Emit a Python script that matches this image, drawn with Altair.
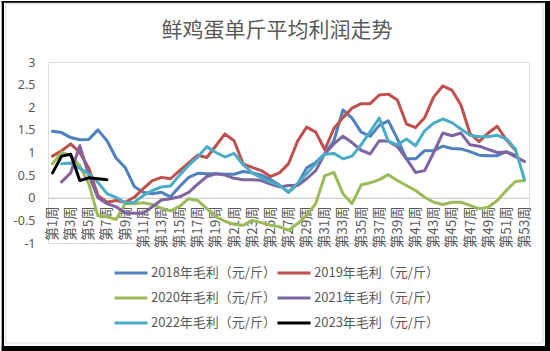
import altair as alt
import pandas as pd

weeks = list(range(1, 54))
names = ["2018年毛利（元/斤）", "2019年毛利（元/斤）", "2020年毛利（元/斤）",
         "2021年毛利（元/斤）", "2022年毛利（元/斤）", "2023年毛利（元/斤）"]
colors = ["#4F81BD", "#C0504D", "#9BBB59", "#8064A2", "#4BACC6", "#000000"]
title_text = "鲜鸡蛋单斤平均利润走势"

s2018 = [1.47, 1.44, 1.33, 1.28, 1.29, 1.50, 1.26, 0.88, 0.67, 0.25, 0.12, 0.09, 0.12, 0.02,
         0.25, 0.45, 0.54, 0.53, 0.53, 0.52, 0.52, 0.58, 0.55, 0.50, 0.40, 0.28, 0.12, 0.30,
         0.66, 0.78, 0.97, 1.26, 1.94, 1.76, 1.45, 1.36, 1.60, 1.70, 1.30, 0.86, 0.86, 1.04,
         1.04, 1.14, 1.09, 1.08, 1.02, 0.94, 0.93, 0.93, 1.02, 0.94, None]
s2019 = [0.92, 1.04, 1.19, 1.00, 0.65, 0.05, -0.10, -0.06, -0.10, 0.01, 0.20, 0.38, 0.45, 0.42,
         0.60, 0.77, 0.94, 0.89, 1.15, 1.41, 1.26, 0.75, 0.67, 0.60, 0.47, 0.55, 0.75, 1.25,
         1.56, 1.45, 1.06, 1.53, 1.77, 1.98, 2.08, 2.08, 2.27, 2.29, 2.16, 1.63, 1.55, 1.77,
         2.23, 2.47, 2.38, 2.05, 1.42, 1.24, 1.43, 1.58, 1.28, 1.05, None]
s2020 = [0.75, 1.00, 0.93, 0.71, 0.30, -0.40, -0.42, -0.48, -0.13, -0.13, -0.11, -0.15, -0.23,
         -0.29, -0.19, -0.02, -0.06, -0.24, -0.42, -0.52, -0.59, -0.61, -0.50, -0.55, -0.61,
         -0.64, -0.72, -0.57, -0.39, -0.13, 0.49, 0.56, 0.09, -0.13, 0.28, 0.33, 0.40, 0.51,
         0.38, 0.27, 0.16, 0.01, -0.10, -0.15, -0.10, -0.10, -0.17, -0.24, -0.21, -0.06, 0.16,
         0.36, 0.38]
s2021 = [None, 0.35, 0.55, 1.15, 0.50, 0.00, -0.13, -0.20, -0.33, -0.34, -0.34, -0.20, -0.05,
         -0.02, 0.02, 0.12, 0.30, 0.47, 0.53, 0.50, 0.43, 0.40, 0.40, 0.38, 0.30, 0.24, 0.27,
         0.27, 0.42, 0.60, 0.97, 1.19, 1.36, 1.22, 1.05, 0.97, 1.26, 1.25, 1.13, 0.86, 0.56,
         0.60, 1.00, 1.43, 1.37, 1.43, 1.17, 1.14, 1.07, 1.00, 1.01, 0.91, 0.80]
s2022 = [None, 0.75, 0.77, 0.65, 0.53, 0.34, 0.09, 0.01, -0.11, -0.10, 0.05, 0.16, 0.24, 0.26,
         0.50, 0.72, 0.90, 1.13, 1.00, 0.90, 0.98, 0.73, 0.55, 0.44, 0.35, 0.27, 0.13, 0.32,
         0.53, 0.75, 0.96, 0.98, 0.86, 0.92, 1.17, 1.46, 1.76, 1.25, 1.17, 1.30, 1.15, 1.48,
         1.65, 1.74, 1.66, 1.52, 1.38, 1.35, 1.35, 1.38, 1.30, 1.08, 0.40]
s2023 = [0.55, 0.92, 0.96, 0.38, 0.44, 0.42, 0.40] + [None] * 46

y_ticks = [-1, -0.5, 0, 0.5, 1, 1.5, 2, 2.5, 3]
x_label_weeks = list(range(1, 54, 2))

rows = []
for name, vals in zip(names, [s2018, s2019, s2020, s2021, s2022, s2023]):
    for w, v in zip(weeks, vals):
        if v is not None:
            rows.append({"series": name, "week": w, "value": v})
df = pd.DataFrame(rows)

FONT = "Noto Sans CJK SC"
GRAY = "#595959"

lines = alt.Chart(df).mark_line(strokeWidth=3, strokeJoin="round", strokeCap="round").encode(
    x=alt.X("week:Q",
            scale=alt.Scale(domain=[0.5, 53.5], nice=False, zero=False),
            axis=alt.Axis(values=x_label_weeks, labelExpr="'第' + datum.value + '周'",
                          labelAngle=-90, offset=-45.25, domainColor="#BFBFBF",
                          domainWidth=1, ticks=False, grid=False, title=None,
                          labelFont=FONT, labelFontSize=13.5, labelColor=GRAY,
                          labelPadding=8, labelOverlap=False, labelFlush=False)),
    y=alt.Y("value:Q",
            scale=alt.Scale(domain=[-1, 3], nice=False, zero=False),
            axis=alt.Axis(values=y_ticks, labelExpr="'' + datum.value", domain=False,
                          ticks=False, grid=False, title=None, labelFont="Noto Sans",
                          labelFontSize=12.5, labelColor=GRAY, labelPadding=13)),
    color=alt.Color("series:N", sort=names,
                    scale=alt.Scale(domain=names, range=colors),
                    legend=alt.Legend(orient="none", legendX=65, legendY=193, columns=2,
                                      direction="horizontal",
                                      title=None, symbolType="stroke", symbolSize=1089,
                                      symbolStrokeWidth=3, labelFont=FONT, labelFontSize=13,
                                      labelColor=GRAY, labelOffset=2, columnPadding=-5,
                                      rowPadding=0, padding=0)),
    order=alt.Order("week:Q"),
)

one = pd.DataFrame({"k": [0]})
def bar(x, x2, y, y2, color="black"):
    return alt.Chart(one).mark_rect(color=color).encode(
        x=alt.value(x), x2=alt.value(x2), y=alt.value(y), y2=alt.value(y2))

# frame (relative to plot origin at 48, 62)
inner = alt.Chart(one).mark_rect(fillOpacity=0, stroke="#D9D9D9", strokeWidth=1).encode(
    x=alt.value(-42.25), x2=alt.value(495), y=alt.value(-58.5), y2=alt.value(281))
left = bar(-46.3, -44, -61, 289)
top = bar(-46.3, 502, -61, -59.3)
right = bar(497, 502, -61, 289)
bottom = bar(-46.3, 502, 284, 289)

title = alt.Chart(one).mark_text(text=title_text, font=FONT, fontSize=21, color=GRAY,
                                 align="center", baseline="middle").encode(
    x=alt.value(229), y=alt.value(-31))

chart = alt.layer(inner, left, top, right, bottom, title, lines).properties(
    width=481, height=181,
    padding={"left": 48, "top": 62, "right": 21, "bottom": 108},
    autosize=alt.AutoSizeParams(type="none"),
).configure_view(stroke=None).configure(background="white")

chart.save("out.html", embed_options={"renderer": "svg", "actions": False})
